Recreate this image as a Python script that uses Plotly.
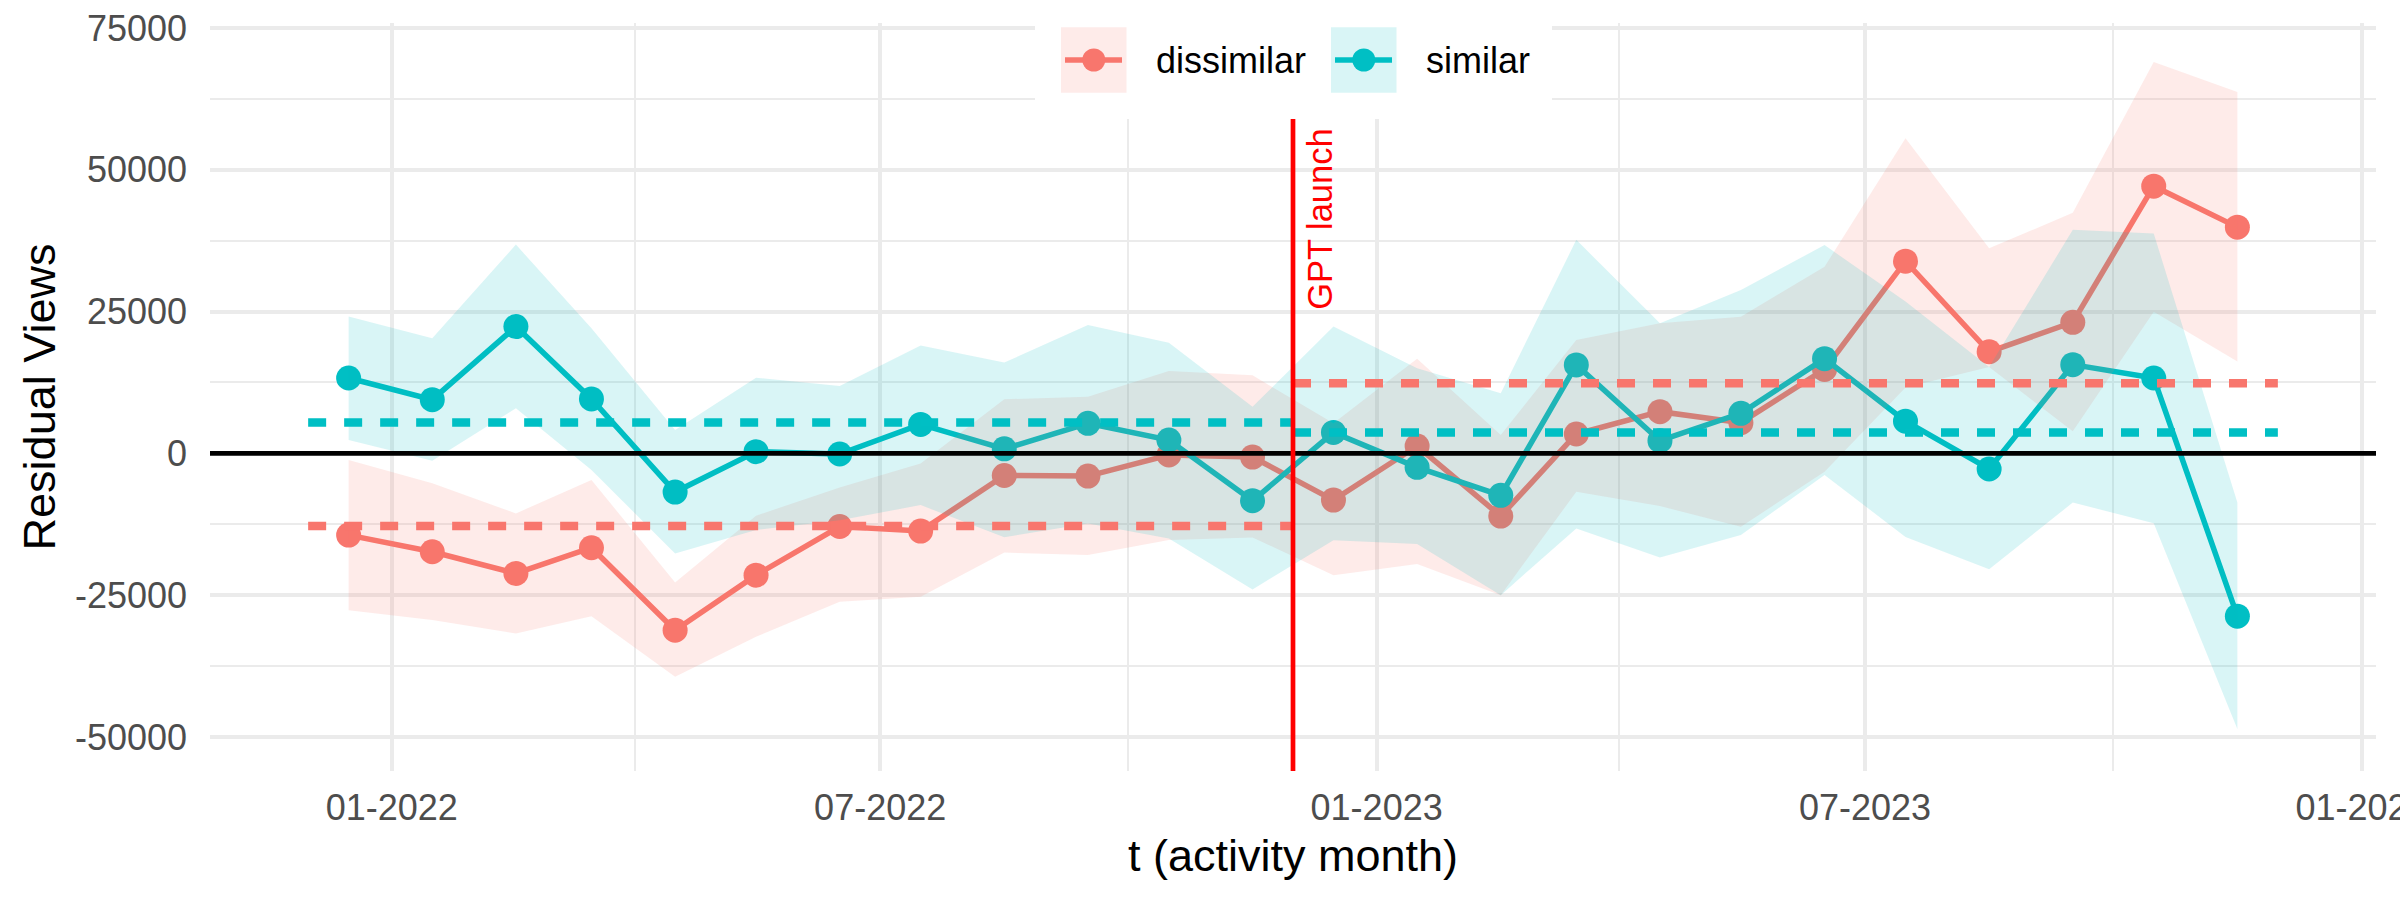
import plotly.graph_objects as go

# ---------------- data ----------------
months = ["2021-12-16", "2022-01-16", "2022-02-16", "2022-03-16", "2022-04-16", "2022-05-16",
          "2022-06-16", "2022-07-16", "2022-08-16", "2022-09-16", "2022-10-16", "2022-11-16",
          "2022-12-16", "2023-01-16", "2023-02-16", "2023-03-16", "2023-04-16", "2023-05-16",
          "2023-06-16", "2023-07-16", "2023-08-16", "2023-09-16", "2023-10-16", "2023-11-16"]

dissimilar = [-14410, -17350, -21170, -16640, -31170, -21470, -12900, -13700, -3900, -4000, -290, -650,
              -8240, 1290, -11060, 3410, 7350, 5410, 14800, 33880, 17910, 23100, 47100, 39880]
dissimilar_hi = [-1180, -5290, -10590, -4700, -22760, -11000, -6000, -1800, 9530, 10000, 14530, 13750,
                 5300, 16700, 3235, 20000, 22940, 24100, 32900, 55530, 36150, 42400, 69000, 63710]
dissimilar_lo = [-27640, -29400, -31760, -28700, -39400, -32350, -26170, -25290, -17500, -17940, -15290, -14820,
                 -21500, -19500, -25000, -6760, -9290, -12940, -3240, 11590, 15240, 3890, 24970, 16210]

similar = [13290, 9470, 22350, 9590, -6820, 290, -120, 5100, 800, 5290, 2350, -8360,
           3690, -2470, -7400, 15590, 2235, 7060, 16700, 5670, -2760, 15640, 13290, -28700]
similar_hi = [24110, 20290, 36800, 22050, 4120, 13350, 11880, 19000, 16000, 22640, 19520, 8230,
              22350, 15000, 10590, 37640, 22940, 28820, 36720, 26750, 15240, 39400, 38750, -8670]
similar_lo = [2350, -1290, 7940, -2940, -17640, -13500, -11800, -9120, -14800, -12350, -15000, -24000,
              -15300, -16000, -25000, -13230, -18350, -14410, -3800, -14750, -20430, -8670, -12320, -48600]

period_pre = ["2021-12-01", "2022-12-01"]
period_post = ["2022-12-01", "2023-12-01"]
mean_dissimilar = [-12800, 12370]   # pre, post
mean_similar = [5430, 3670]         # pre, post

gpt_launch = "2022-12-01"
gpt_label = "GPT launch"
gpt_label_y = 41340

series_names = ["dissimilar", "similar"]
series_colors = ["#F8766D", "#00BFC4"]
series_fills = ["rgba(248,118,109,0.15)", "rgba(0,191,196,0.15)"]

y_ticks = [-50000, -25000, 0, 25000, 50000, 75000]
y_ticktext = ["-50000", "-25000", "0", "25000", "50000", "75000"]
x_title = "t (activity month)"
y_title = "Residual Views"

FONT = "Liberation Sans, Arial, sans-serif"

# ---------------- figure ----------------
W, H = 2400, 900
ML, MR, MT, MB = 210, 24, 23, 129
PW, PH = W - ML - MR, H - MT - MB


def px_x(p):
    return (p - ML) / PW


def px_y(p):
    return (H - MB - p) / PH


fig = go.Figure()

values = [dissimilar, similar]
his = [dissimilar_hi, similar_hi]
los = [dissimilar_lo, similar_lo]
means = [mean_dissimilar, mean_similar]

# lines + points (drawn first, ribbons sit on top as in the reference)
for name, col, v in zip(series_names, series_colors, values):
    fig.add_trace(go.Scatter(x=months, y=v, mode="lines+markers", name=name,
                             line=dict(color=col, width=5.5),
                             marker=dict(color=col, size=25, line=dict(width=0)),
                             showlegend=False, hoverinfo="skip"))

# ribbons
for name, col, fc, hi, lo in zip(series_names, series_colors, series_fills, his, los):
    fig.add_trace(go.Scatter(x=months + months[::-1], y=hi + lo[::-1], mode="lines",
                             fill="toself", fillcolor=fc, line=dict(width=0),
                             showlegend=False, hoverinfo="skip", name=name + " CI"))

# period means (dashed)
for name, col, m in zip(series_names, series_colors, means):
    for per, val in zip([period_pre, period_post], m):
        fig.add_trace(go.Scatter(x=per, y=[val, val], mode="lines",
                                 line=dict(color=col, width=8.5, dash="18px,18px"),
                                 showlegend=False, hoverinfo="skip"))

# zero line and GPT launch line
fig.add_hline(y=0, line=dict(color="black", width=4.7), layer="above")
fig.add_vline(x=gpt_launch, line=dict(color="#FF0000", width=4.7), layer="above")

fig.add_annotation(x=gpt_launch, y=gpt_label_y, xref="x", yref="y", text=gpt_label,
                   textangle=-90, showarrow=False, xanchor="center", yanchor="middle",
                   xshift=27, font=dict(family=FONT, size=34.5, color="#FF0000"))

# ---------------- legend (ggplot-style keys) ----------------
fig.add_shape(type="rect", xref="paper", yref="paper", layer="above",
              x0=px_x(1035), x1=px_x(1552), y0=px_y(119), y1=px_y(-2),
              fillcolor="white", line=dict(width=0))
key_left = [1061, 1331]
text_left = [1153.6, 1423.5]
for name, col, fc, kl, tl in zip(series_names, series_colors, series_fills, key_left, text_left):
    fig.add_shape(type="rect", xref="paper", yref="paper", layer="above",
                  x0=px_x(kl), x1=px_x(kl + 65.5), y0=px_y(92.7), y1=px_y(27.3),
                  fillcolor=fc, line=dict(width=0))
    fig.add_shape(type="line", xref="paper", yref="paper", layer="above",
                  x0=px_x(kl + 4), x1=px_x(kl + 61), y0=px_y(60), y1=px_y(60),
                  line=dict(color=col, width=5.5))
    cx = kl + 32.8
    fig.add_shape(type="circle", xref="paper", yref="paper", layer="above",
                  x0=px_x(cx - 11.5), x1=px_x(cx + 11.5), y0=px_y(71.5), y1=px_y(48.5),
                  fillcolor=col, line=dict(width=0))
    fig.add_annotation(xref="paper", yref="paper", x=px_x(tl), y=px_y(61), text=name,
                       showarrow=False, xanchor="left", yanchor="middle",
                       font=dict(family=FONT, size=36, color="black"))

grid = "#EBEBEB"
fig.update_layout(
    width=W, height=H,
    margin=dict(l=ML, r=MR, t=MT, b=MB, autoexpand=False),
    paper_bgcolor="white", plot_bgcolor="white",
    font=dict(family=FONT, color="#4D4D4D"),
    showlegend=False,
    xaxis=dict(type="date", range=["2021-10-25 15:00", "2024-01-06 09:00"],
               tick0="2022-01-01", dtick="M6", tickformat="%m-%Y",
               showgrid=True, gridcolor=grid, gridwidth=3.6, zeroline=False,
               showline=False, ticks="", ticklabelstandoff=12,
               ticklabeloverflow="allow",
               tickfont=dict(family=FONT, size=36, color="#4D4D4D"),
               minor=dict(tick0="2022-01-01", dtick="M3", showgrid=True,
                          gridcolor=grid, gridwidth=2.2),
               title=dict(text=x_title, standoff=12,
                          font=dict(family=FONT, size=45, color="black"))),
    yaxis=dict(range=[-56000, 75870], tickvals=y_ticks, ticktext=y_ticktext,
               showgrid=True, gridcolor=grid, gridwidth=3.6, zeroline=False,
               showline=False, ticks="", ticklabelstandoff=22,
               tickfont=dict(family=FONT, size=36, color="#4D4D4D"),
               minor=dict(tick0=0, dtick=12500, showgrid=True,
                          gridcolor=grid, gridwidth=2.2),
               title=dict(text=y_title, standoff=5,
                          font=dict(family=FONT, size=45, color="black"))),
)

fig.write_html("out.html")
